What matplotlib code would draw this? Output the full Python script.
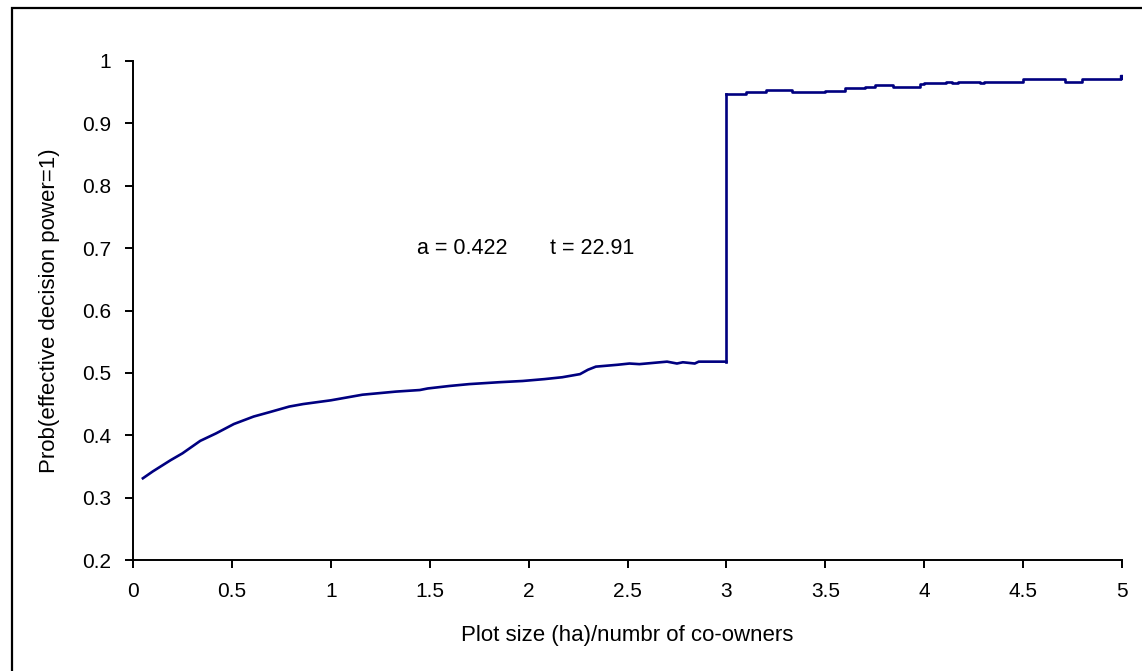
import matplotlib
matplotlib.use("Agg")
import matplotlib.pyplot as plt
from matplotlib.patches import Rectangle

# ========== 数据 ==========
# 下段: 0.05 ~ 3.0, 曲线较平滑
low_size = [0.05, 0.10, 0.19, 0.25, 0.34, 0.42, 0.51, 0.61, 0.69, 0.79, 0.86, 1.00,
            1.16, 1.33, 1.45, 1.49, 1.60, 1.70, 1.85, 1.97, 2.08, 2.17, 2.26, 2.30,
            2.34, 2.45, 2.51, 2.56, 2.70, 2.75, 2.78, 2.84, 2.86, 3.00]
low_prob = [0.331, 0.342, 0.360, 0.371, 0.391, 0.403, 0.418, 0.430, 0.437, 0.446, 0.450, 0.456,
            0.465, 0.470, 0.4725, 0.475, 0.479, 0.482, 0.485, 0.487, 0.490, 0.493, 0.498, 0.505,
            0.510, 0.513, 0.515, 0.514, 0.518, 0.515, 0.517, 0.515, 0.518, 0.518]
# 上段: 3.0 ~ 5.0, 阶梯状
high_size = [3.00, 3.10, 3.20, 3.33, 3.50, 3.60, 3.70, 3.75, 3.84, 3.98, 4.00, 4.11, 4.14,
             4.17, 4.28, 4.30, 4.50, 4.71, 4.80, 5.00]
high_prob = [0.947, 0.950, 0.953, 0.950, 0.952, 0.956, 0.959, 0.962, 0.959, 0.963, 0.965, 0.967, 0.964,
             0.967, 0.964, 0.967, 0.971, 0.967, 0.971, 0.975]

x_ticks = [0, 0.5, 1, 1.5, 2, 2.5, 3, 3.5, 4, 4.5, 5]
x_tick_labels = ['0', '0.5', '1', '1.5', '2', '2.5', '3', '3.5', '4', '4.5', '5']
y_ticks = [0.2, 0.3, 0.4, 0.5, 0.6, 0.7, 0.8, 0.9, 1.0]
y_tick_labels = ['0.2', '0.3', '0.4', '0.5', '0.6', '0.7', '0.8', '0.9', '1']

# ========== 作图 ==========
plt.rcParams['font.family'] = ['Liberation Sans', 'DejaVu Sans']
navy = '#000080'

fig = plt.figure(figsize=(11.42, 6.71), dpi=100)
ax = fig.add_axes([133 / 1142, 1 - 560 / 671, (1122 - 133) / 1142, (560 - 61) / 671])

ax.plot(low_size, low_prob, color=navy, lw=1.9, solid_joinstyle='miter')
ax.plot([low_size[-1], high_size[0]], [low_prob[-1], high_prob[0]], color=navy, lw=1.9)
ax.plot(high_size, high_prob, drawstyle='steps-post', color=navy, lw=1.9)
ax.plot(high_size[-1], high_prob[-1], 's', color=navy, ms=3)

ax.set_xlim(0, 5)
ax.set_ylim(0.2, 1.0)
ax.set_xticks(x_ticks)
ax.set_xticklabels(x_tick_labels)
ax.set_yticks(y_ticks)
ax.set_yticklabels(y_tick_labels)

for side in ['top', 'right']:
    ax.spines[side].set_visible(False)
for side in ['left', 'bottom']:
    ax.spines[side].set_linewidth(1.4)
    ax.spines[side].set_color('black')

ax.tick_params(direction='out', length=5.5, width=1.4, labelsize=15, pad=10, colors='black')

ax.set_xlabel('Plot size (ha)/numbr of co-owners', fontsize=16, va='center')
ax.xaxis.set_label_coords(0.5, (560 - 636) / 499)
ax.set_ylabel('Prob(effective decision power=1)', fontsize=16, va='center')
ax.yaxis.set_label_coords((50 - 133) / 989, 0.5)

ax.text(1.436, 0.699, 'a = 0.422', fontsize=15.5, ha='left', va='center')
ax.text(2.108, 0.699, 't = 22.91', fontsize=15.5, ha='left', va='center')

# 外框
fig.patches.append(Rectangle((12 / 1142, -0.2), 1.2, 1.2 - 9 / 671 + 0.001,
                             transform=fig.transFigure, fill=False,
                             edgecolor='black', lw=1.6))

fig.savefig('out.png', dpi=100)
